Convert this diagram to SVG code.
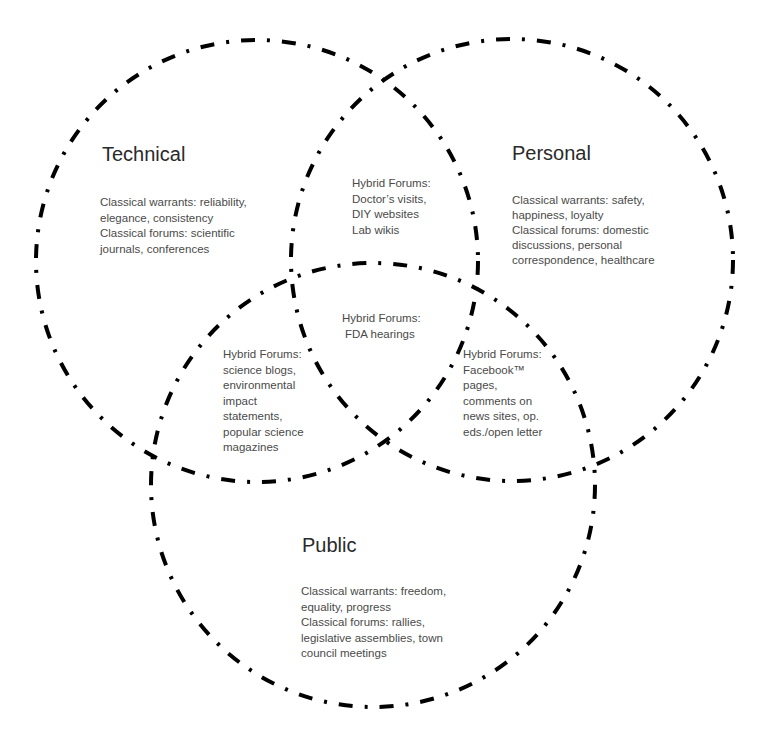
<svg xmlns="http://www.w3.org/2000/svg" width="760" height="733" viewBox="0 0 760 733">
<style>
.ring{fill:none;stroke:#000;stroke-width:4;stroke-dasharray:14 12 3 12}
.title{font-family:"Liberation Sans",Arial,sans-serif;font-size:20px;fill:#2a2a2a}
.body{font-family:"Liberation Sans",Arial,sans-serif;font-size:11.5px;fill:#4a4a4a}
</style>
<rect width="760" height="733" fill="#fff"/>
<g id="technical">
<circle class="ring" cx="257" cy="261" r="221"/>
<text class="title" x="102" y="161">Technical</text>
<text class="body" x="100"><tspan x="100" y="206">Classical warrants: reliability,</tspan><tspan x="100" y="221.5">elegance, consistency</tspan><tspan x="100" y="237">Classical forums: scientific</tspan><tspan x="100" y="252.5">journals, conferences</tspan></text>
</g>
<g id="personal">
<circle class="ring" cx="512" cy="260" r="221"/>
<text class="title" x="512" y="160">Personal</text>
<text class="body"><tspan x="512" y="204">Classical warrants: safety,</tspan><tspan x="512" y="219">happiness, loyalty</tspan><tspan x="512" y="234">Classical forums: domestic</tspan><tspan x="512" y="249">discussions, personal</tspan><tspan x="512" y="264">correspondence, healthcare</tspan></text>
</g>
<g id="public">
<circle class="ring" cx="373" cy="485" r="222"/>
<text class="title" x="302" y="552">Public</text>
<text class="body"><tspan x="301" y="595">Classical warrants: freedom,</tspan><tspan x="301" y="610.5">equality, progress</tspan><tspan x="301" y="626">Classical forums: rallies,</tspan><tspan x="301" y="641.5">legislative assemblies, town</tspan><tspan x="301" y="657">council meetings</tspan></text>
</g>
<g id="hybrid-technical-personal">
<text class="body"><tspan x="352" y="187">Hybrid Forums:</tspan><tspan x="352" y="202.5">Doctor’s visits,</tspan><tspan x="352" y="218">DIY websites</tspan><tspan x="352" y="233.5">Lab wikis</tspan></text>
</g>
<g id="hybrid-all">
<text class="body"><tspan x="342" y="322">Hybrid Forums:</tspan><tspan x="345" y="337.5">FDA hearings</tspan></text>
</g>
<g id="hybrid-technical-public">
<text class="body"><tspan x="223" y="358">Hybrid Forums:</tspan><tspan x="223" y="373.5">science blogs,</tspan><tspan x="223" y="389">environmental</tspan><tspan x="223" y="404.5">impact</tspan><tspan x="223" y="420">statements,</tspan><tspan x="223" y="435.5">popular science</tspan><tspan x="223" y="451">magazines</tspan></text>
</g>
<g id="hybrid-personal-public">
<text class="body"><tspan x="463" y="358">Hybrid Forums:</tspan><tspan x="463" y="373.5">Facebook™</tspan><tspan x="463" y="389">pages,</tspan><tspan x="463" y="404.5">comments on</tspan><tspan x="463" y="420">news sites, op.</tspan><tspan x="463" y="435.5">eds./open letter</tspan></text>
</g>
</svg>
